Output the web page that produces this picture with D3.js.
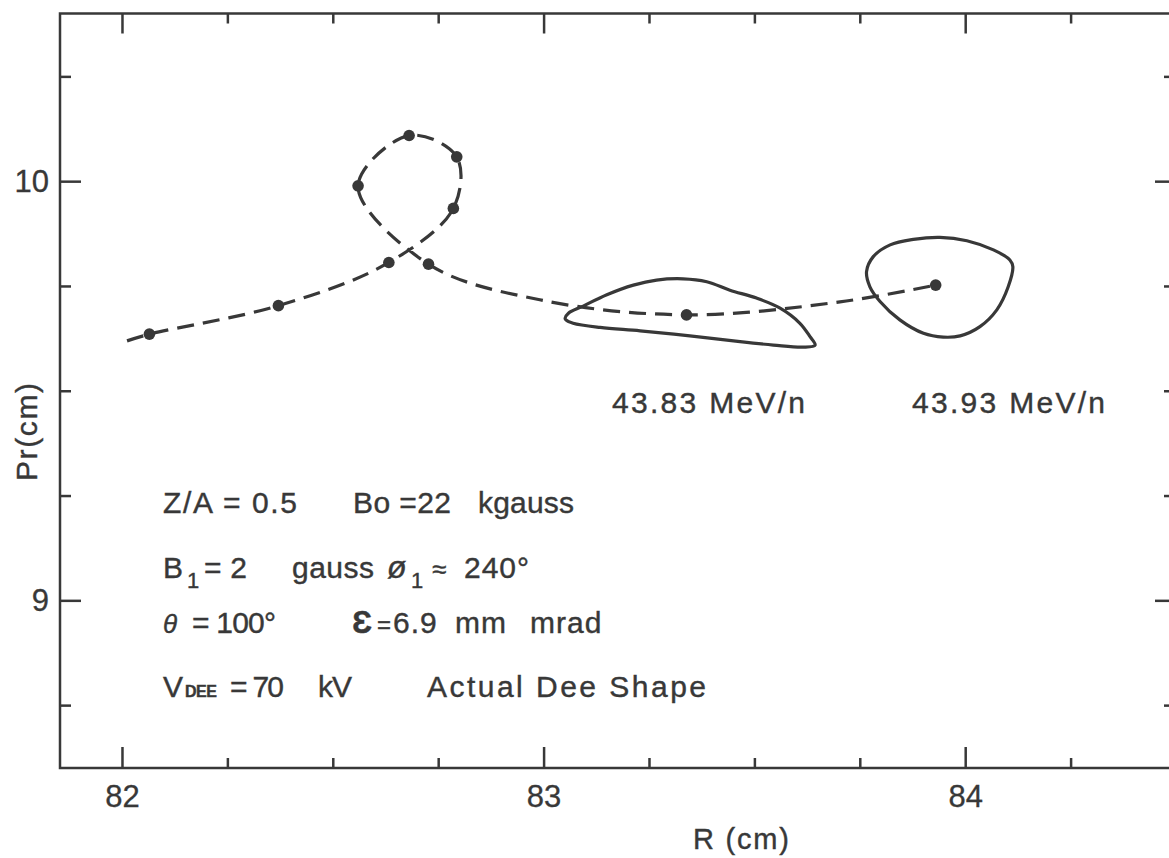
<!DOCTYPE html>
<html>
<head>
<meta charset="utf-8">
<script src="https://cdn.jsdelivr.net/npm/d3@7"></script>
<style>
  body { margin: 0; background: #fff; }
  svg { display: block; font-family: "Liberation Sans", Arial, sans-serif; }
  .tick text { font-size: 31px; fill: #383838; stroke: #383838; stroke-width: 0.3; }
  .tick line { stroke: #383838; stroke-width: 2.5; }
  .note { stroke: #383838; stroke-width: 0.4; letter-spacing: 1px; }
</style>
</head>
<body>
<div id="chart"></div>
<script>
// orbit centre track, R (cm) / Pr (cm)
const trackR  = [82.012, 82.065, 82.371, 82.633, 82.786, 82.794, 82.681, 82.560, 82.727, 82.991, 83.339, 83.703, 83.930];
const trackPr = [9.619, 9.635, 9.703, 9.806, 9.935, 10.058, 10.109, 9.989, 9.802, 9.717, 9.681, 9.712, 9.752];

// markers on the track (one per turn)
const turnR  = [82.065, 82.371, 82.633, 82.786, 82.794, 82.681, 82.560, 82.727, 83.339, 83.930];
const turnPr = [9.635, 9.703, 9.806, 9.935, 10.058, 10.109, 9.989, 9.802, 9.681, 9.752];

// emittance contour at 43.83 MeV/n
const beam1R  = [83.051, 83.059, 83.094, 83.150, 83.213, 83.268, 83.331, 83.387, 83.442, 83.505, 83.561, 83.608, 83.632, 83.644, 83.616, 83.545, 83.466, 83.347, 83.229, 83.134, 83.070, 83.053];
const beam1Pr = [9.673, 9.685, 9.702, 9.729, 9.752, 9.764, 9.767, 9.760, 9.740, 9.721, 9.697, 9.661, 9.629, 9.609, 9.604, 9.609, 9.617, 9.631, 9.643, 9.651, 9.661, 9.669];

// emittance contour at 43.93 MeV/n
const beam2R  = [83.766, 83.782, 83.822, 83.877, 83.940, 84.004, 84.067, 84.106, 84.113, 84.102, 84.075, 84.035, 83.988, 83.948, 83.901, 83.845, 83.798, 83.774];
const beam2Pr = [9.784, 9.820, 9.848, 9.861, 9.866, 9.858, 9.836, 9.812, 9.796, 9.748, 9.693, 9.653, 9.631, 9.628, 9.637, 9.669, 9.713, 9.748];

const beamLabels = ["43.83 MeV/n", "43.93 MeV/n"];
const xMajor = [82, 83, 84];
const yMajor = [9, 10];

const width = 1169, height = 858;
const ink = "#383838";

const svg = d3.select("#chart").append("svg")
    .attr("width", width)
    .attr("height", height);

const x = d3.scaleLinear([81.853, 84.5], [60, 1176]);
const y = d3.scaleLinear([8.6, 10.4], [768, 13.5]);

const xMinor = d3.range(82, 84.51, 0.25).filter(d => !xMajor.includes(d));
const yMinor = d3.range(8.75, 10.3, 0.25).filter(d => !yMajor.includes(d));

// ticks, all pointing inwards
function addAxis(axisFn, scale, vals, size, pos, labels, pad) {
    const a = axisFn(scale).tickValues(vals).tickSize(-size).tickSizeOuter(0);
    if (labels) a.tickFormat(d3.format("d")).tickPadding(pad);
    else a.tickFormat("");
    const g = svg.append("g").attr("transform", pos).call(a);
    g.select(".domain").remove();
    return g;
}
const [x0, x1] = x.range(), [yb, yt] = y.range();
addAxis(d3.axisBottom, x, xMajor, 21, `translate(0,${yb})`, true, 17);
addAxis(d3.axisBottom, x, xMinor, 10, `translate(0,${yb})`, false);
addAxis(d3.axisTop, x, xMajor, 20, `translate(0,${yt})`, false);
addAxis(d3.axisTop, x, xMinor, 10, `translate(0,${yt})`, false);
addAxis(d3.axisLeft, y, yMajor, 21, `translate(${x0},0)`, true, 11);
addAxis(d3.axisLeft, y, yMinor, 11, `translate(${x0},0)`, false);
addAxis(d3.axisRight, y, yMajor, 21, `translate(${x1},0)`, false);
addAxis(d3.axisRight, y, yMinor, 12, `translate(${x1},0)`, false);

svg.append("rect")
    .attr("x", x0).attr("y", yt)
    .attr("width", x1 - x0).attr("height", yb - yt)
    .attr("fill", "none").attr("stroke", ink).attr("stroke-width", 2.5);

// axis titles
svg.append("text").attr("class", "note")
    .attr("x", 693).attr("y", 849)
    .attr("textLength", 97).attr("lengthAdjust", "spacing")
    .attr("font-size", 29).attr("fill", ink)
    .text("R (cm)");
svg.append("text").attr("class", "note")
    .attr("transform", "translate(37,481) rotate(-90)")
    .attr("textLength", 99).attr("lengthAdjust", "spacing")
    .attr("font-size", 30).attr("fill", ink)
    .text("Pr(cm)");

// track
const track = trackR.map((r, i) => [r, trackPr[i]]);
svg.append("path")
    .datum(track)
    .attr("d", d3.line(d => x(d[0]), d => y(d[1])).curve(d3.curveCatmullRom.alpha(0.5)))
    .attr("fill", "none").attr("stroke", ink)
    .attr("stroke-width", 3.2).attr("stroke-dasharray", "17 9");

// emittance contours
const contour = d3.line(d => x(d[0]), d => y(d[1])).curve(d3.curveCatmullRomClosed.alpha(0.5));
[[beam1R, beam1Pr], [beam2R, beam2Pr]].forEach(([rs, ps]) => {
    svg.append("path")
        .datum(rs.map((r, i) => [r, ps[i]]))
        .attr("d", contour)
        .attr("fill", "none").attr("stroke", ink).attr("stroke-width", 3.2);
});

svg.append("g").selectAll("circle")
    .data(turnR.map((r, i) => [r, turnPr[i]]))
    .join("circle")
    .attr("cx", d => x(d[0])).attr("cy", d => y(d[1]))
    .attr("r", 5.8).attr("fill", ink);

// energy labels
const labelPos = [[612, 413], [912, 413]];
beamLabels.forEach((t, i) => {
    svg.append("text").attr("class", "note")
        .attr("x", labelPos[i][0]).attr("y", labelPos[i][1])
        .attr("textLength", 194).attr("lengthAdjust", "spacing")
        .attr("font-size", 30).attr("fill", ink)
        .text(t);
});

// run parameters
const notes = [
    {x: 163, y: 513, t: "Z/A = 0.5", len: 135},
    {x: 353, y: 513, t: "Bo =22", len: 99},
    {x: 478, y: 513, t: "kgauss", len: 97},
    {x: 163, y: 578, t: "B"},
    {x: 187, y: 588, t: "1", size: 22},
    {x: 204, y: 578, t: "= 2", len: 44},
    {x: 292, y: 578, t: "gauss", len: 83},
    {x: 387, y: 578, t: "ø", size: 32, style: "italic"},
    {x: 411, y: 588, t: "1", size: 22},
    {x: 432, y: 578, t: "≈", size: 26},
    {x: 464, y: 578, t: "240°"},
    {x: 163, y: 633, t: "θ", size: 26, style: "italic"},
    {x: 192, y: 633, t: "= 100°", len: 85},
    {x: 352, y: 633, t: "Ɛ", size: 32, weight: "bold"},
    {x: 377, y: 633, t: "=", size: 24},
    {x: 393, y: 633, t: "6.9"},
    {x: 455, y: 633, t: "mm"},
    {x: 530, y: 633, t: "mrad"},
    {x: 163, y: 697, t: "V"},
    {x: 185, y: 697, t: "DEE", size: 16, weight: "bold", len: 33},
    {x: 230, y: 697, t: "= 70", len: 55},
    {x: 318, y: 697, t: "kV", len: 35},
    {x: 427, y: 697, t: "Actual Dee Shape", len: 280}
];
svg.append("g").selectAll("text")
    .data(notes)
    .join("text")
    .attr("class", "note")
    .attr("x", d => d.x).attr("y", d => d.y)
    .attr("font-size", d => d.size || 30)
    .attr("font-style", d => d.style || null)
    .attr("font-weight", d => d.weight || null)
    .attr("textLength", d => d.len || null)
    .attr("lengthAdjust", "spacing")
    .attr("fill", ink)
    .text(d => d.t);
</script>
</body>
</html>
